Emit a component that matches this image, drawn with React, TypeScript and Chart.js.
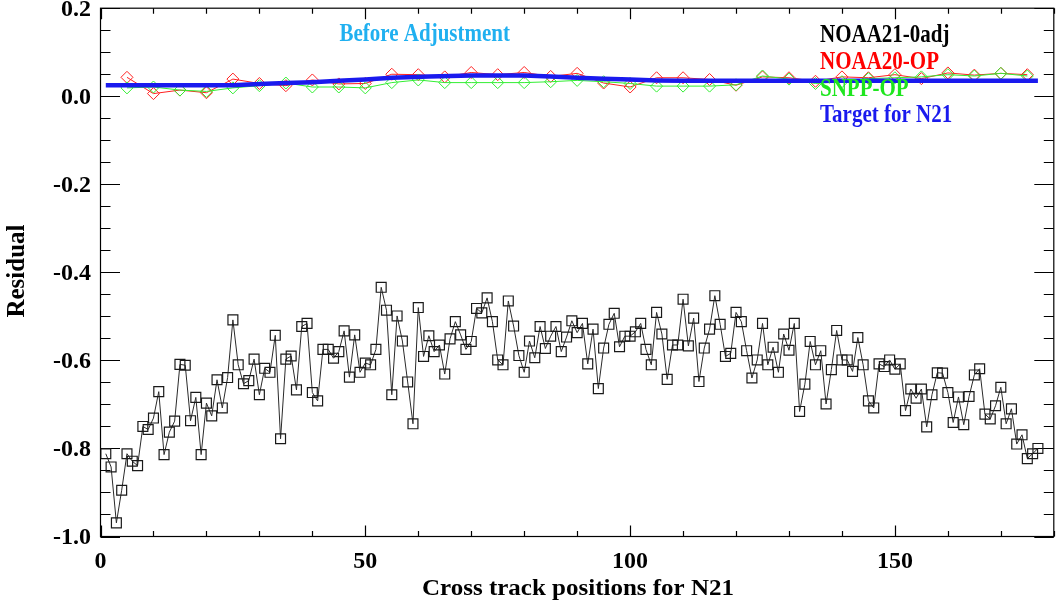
import React, { useEffect, useRef } from "react";
import { Chart, registerables } from "chart.js";

Chart.register(...registerables);

// ---------- data ----------
const noaa21Values = [
  -0.812, -0.842, -0.969, -0.895, -0.812, -0.829, -0.839, -0.750, -0.757, -0.731,
  -0.671, -0.814, -0.763, -0.738, -0.609, -0.611, -0.737, -0.684, -0.814, -0.697,
  -0.726, -0.644, -0.708, -0.639, -0.508, -0.610, -0.653, -0.646, -0.597, -0.678,
  -0.618, -0.627, -0.543, -0.778, -0.597, -0.590, -0.667, -0.523, -0.516, -0.673,
  -0.692, -0.575, -0.575, -0.595, -0.580, -0.533, -0.638, -0.542, -0.627, -0.606,
  -0.610, -0.575, -0.434, -0.486, -0.678, -0.499, -0.556, -0.649, -0.744, -0.480,
  -0.591, -0.544, -0.580, -0.565, -0.631, -0.551, -0.512, -0.542, -0.575, -0.557,
  -0.482, -0.492, -0.458, -0.512, -0.599, -0.610, -0.465, -0.522, -0.589, -0.627,
  -0.556, -0.594, -0.523, -0.573, -0.545, -0.523, -0.580, -0.547, -0.510, -0.537,
  -0.516, -0.608, -0.529, -0.664, -0.572, -0.518, -0.493, -0.569, -0.545, -0.545,
  -0.535, -0.516, -0.575, -0.610, -0.491, -0.540, -0.643, -0.565, -0.565, -0.461,
  -0.567, -0.504, -0.648, -0.572, -0.529, -0.453, -0.518, -0.591, -0.584, -0.491,
  -0.512, -0.578, -0.640, -0.599, -0.516, -0.610, -0.570, -0.627, -0.540, -0.577,
  -0.516, -0.716, -0.654, -0.557, -0.610, -0.578, -0.699, -0.621, -0.532, -0.599,
  -0.599, -0.625, -0.548, -0.610, -0.692, -0.708, -0.608, -0.614, -0.599, -0.620,
  -0.608, -0.714, -0.665, -0.686, -0.665, -0.751, -0.678, -0.628, -0.629, -0.673,
  -0.741, -0.683, -0.746, -0.682, -0.633, -0.619, -0.722, -0.733, -0.703, -0.661,
  -0.744, -0.710, -0.790, -0.769, -0.823, -0.812, -0.800,
];

const diamondPositions = [
  5, 10, 15, 20, 25, 30, 35, 40, 45, 50, 55, 60, 65, 70, 75, 80, 85, 90, 95, 100,
  105, 110, 115, 120, 125, 130, 135, 140, 145, 150, 155, 160, 165, 170, 175,
];

const noaa20Values = [
  0.043, 0.006, 0.014, 0.008, 0.039, 0.029, 0.024, 0.037, 0.028, 0.029,
  0.050, 0.049, 0.044, 0.054, 0.049, 0.054, 0.045, 0.052, 0.030, 0.021,
  0.042, 0.042, 0.038, 0.025, 0.044, 0.042, 0.034, 0.044, 0.042, 0.049,
  0.040, 0.053, 0.048, 0.052, 0.049,
];

const snppValues = [
  0.019, 0.021, 0.014, 0.011, 0.019, 0.024, 0.030, 0.021, 0.021, 0.019,
  0.031, 0.037, 0.031, 0.031, 0.031, 0.031, 0.033, 0.036, 0.033, 0.029,
  0.023, 0.023, 0.023, 0.026, 0.046, 0.039, 0.029, 0.033, 0.040, 0.042,
  0.044, 0.049, 0.046, 0.052, 0.046,
];

const targetPositions = [1, 25, 30, 35, 40, 45, 50, 55, 62, 70, 80, 85, 90, 95, 100, 105, 110, 140, 177];
const targetValues = [
  0.025, 0.025, 0.028, 0.030, 0.032, 0.035, 0.038, 0.042, 0.045, 0.047,
  0.047, 0.045, 0.042, 0.040, 0.038, 0.036, 0.035, 0.035, 0.035,
];

const xTickValues = [0, 50, 100, 150];
const xTickLabels = ["0", "50", "100", "150"];
const yTickValues = [-1.0, -0.8, -0.6, -0.4, -0.2, 0.0, 0.2];
const yTickLabels = ["-1.0", "-0.8", "-0.6", "-0.4", "-0.2", "0.0", "0.2"];

const legendLabels = ["NOAA21-0adj", "NOAA20-OP", "SNPP-OP", "Target for N21"];
const legendColors = ["#000000", "#ff0000", "#1ee61e", "#1a1aee"];
const noteText = "Before Adjustment";
const xTitle = "Cross track positions for N21";
const yTitle = "Residual";

// ---------- helpers ----------
const SERIF = '"Liberation Serif", "DejaVu Serif", serif';

function drawText(
  ctx: CanvasRenderingContext2D,
  text: string,
  x: number,
  y: number,
  size: number,
  color: string,
  align: CanvasTextAlign,
  sx = 1,
  sy = 1,
  rotate = 0
) {
  ctx.save();
  ctx.translate(x, y);
  if (rotate) ctx.rotate(rotate);
  ctx.scale(sx, sy);
  ctx.font = `bold ${size}px ${SERIF}`;
  ctx.fillStyle = color;
  ctx.textAlign = align;
  ctx.textBaseline = "alphabetic";
  ctx.fillText(text, 0, 0);
  ctx.restore();
}

const idlAxes = {
  id: "idlAxes",
  beforeDatasetsDraw(chart: any) {
    const { ctx, chartArea, scales } = chart;
    const { left, right, top, bottom } = chartArea;
    const xs = scales.x;
    const ys = scales.y;
    ctx.save();
    ctx.strokeStyle = "#000";
    ctx.lineWidth = 1.2;
    ctx.strokeRect(left, top, right - left, bottom - top);
    ctx.beginPath();
    for (let i = 0; i <= 18; i++) {
      const v = i * 10;
      const px = Math.round(xs.getPixelForValue(v)) + 0.5;
      const len = i % 5 === 0 ? 11 : 5.5;
      ctx.moveTo(px, bottom);
      ctx.lineTo(px, bottom - len);
      ctx.moveTo(px, top);
      ctx.lineTo(px, top + len);
    }
    for (let i = 0; i <= 24; i++) {
      const v = -1 + i * 0.05;
      const py = Math.round(ys.getPixelForValue(v)) + 0.5;
      const len = i % 4 === 0 ? 19.5 : 10;
      ctx.moveTo(left, py);
      ctx.lineTo(left + len, py);
      ctx.moveTo(right, py);
      ctx.lineTo(right - len, py);
    }
    ctx.stroke();
    ctx.restore();
  },
  afterDraw(chart: any) {
    const { ctx, scales } = chart;
    const xs = scales.x;
    const ys = scales.y;
    // tick labels
    xTickValues.forEach((v, i) => {
      drawText(ctx, xTickLabels[i], xs.getPixelForValue(v), 568, 24, "#000", "center", 1, 0.95);
    });
    yTickValues.forEach((v, i) => {
      drawText(ctx, yTickLabels[i], 91, ys.getPixelForValue(v) + 7.5, 24, "#000", "right", 1, 0.95);
    });
    // axis titles
    drawText(ctx, xTitle, 578, 595, 25, "#000", "center", 1, 0.95);
    drawText(ctx, yTitle, 24, 271, 25, "#000", "center", 1, 1, -Math.PI / 2);
    // annotation + legend
    drawText(ctx, noteText, 339.5, 41.2, 21, "#20b0f0", "left", 1, 1.2);
    legendLabels.forEach((t, i) => {
      drawText(ctx, t, 820, 42.3 + i * 26.7, 21, legendColors[i], "left", 1, 1.2);
    });
  },
};

export default function App() {
  const ref = useRef<HTMLCanvasElement | null>(null);

  useEffect(() => {
    if (!ref.current) return;
    const chart = new Chart(ref.current, {
      type: "line",
      data: {
        datasets: [
          {
            label: legendLabels[3],
            data: targetPositions.map((p, i) => ({ x: p, y: targetValues[i] })),
            borderColor: "#1a1aee",
            borderWidth: 4.5,
            pointRadius: 0,
            tension: 0,
            order: 0,
          },
          {
            label: legendLabels[2],
            data: diamondPositions.map((p, i) => ({ x: p, y: snppValues[i] })),
            borderColor: "#33ee33",
            borderWidth: 1,
            pointStyle: "rectRot",
            pointRadius: 6,
            pointBorderWidth: 1,
            pointBorderColor: "#33ee33",
            pointBackgroundColor: "rgba(0,0,0,0)",
            tension: 0,
            order: 1,
          },
          {
            label: legendLabels[1],
            data: diamondPositions.map((p, i) => ({ x: p, y: noaa20Values[i] })),
            borderColor: "#ff2020",
            borderWidth: 1,
            pointStyle: "rectRot",
            pointRadius: 6,
            pointBorderWidth: 1,
            pointBorderColor: "#ff2020",
            pointBackgroundColor: "rgba(0,0,0,0)",
            tension: 0,
            order: 2,
          },
          {
            label: legendLabels[0],
            data: noaa21Values.map((v, i) => ({ x: i + 1, y: v })),
            borderColor: "#2a2a2a",
            borderWidth: 1,
            pointStyle: "rect",
            pointRadius: 7,
            pointBorderWidth: 1.2,
            pointBorderColor: "#1a1a1a",
            pointBackgroundColor: "rgba(0,0,0,0)",
            tension: 0,
            order: 3,
          },
        ],
      },
      options: {
        animation: false,
        responsive: false,
        devicePixelRatio: 1,
        layout: { padding: { left: 100.5, top: 7, right: 2, bottom: 65.5 } },
        plugins: { legend: { display: false }, tooltip: { enabled: false } },
        scales: {
          x: { type: "linear", min: 0, max: 180, display: false },
          y: { type: "linear", min: -1.0, max: 0.2, display: false },
        },
      },
      plugins: [idlAxes],
    });
    return () => chart.destroy();
  }, []);

  return (
    <div
      style={{
        position: "absolute",
        left: 0,
        top: 0,
        width: 1058,
        height: 602,
        overflow: "hidden",
        background: "#fff",
      }}
    >
      <canvas ref={ref} width={1062} height={602} style={{ display: "block" }} />
    </div>
  );
}
